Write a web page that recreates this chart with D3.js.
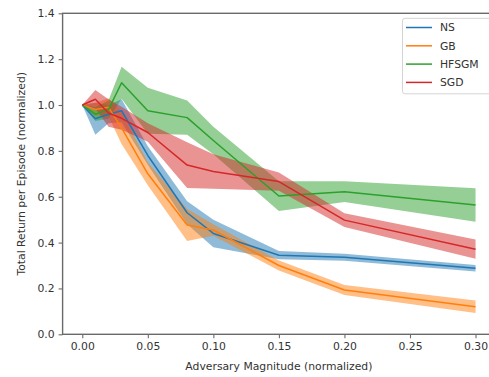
<!DOCTYPE html>
<html>
<head>
<meta charset="utf-8">
<script src="https://cdn.jsdelivr.net/npm/d3@7"></script>
<style>
  html, body { margin: 0; padding: 0; background: #fff; }
  svg { display: block; font-family: "DejaVu Sans", sans-serif; }
</style>
</head>
<body>
<svg id="chart" width="489" height="377"></svg>
<script>
// Adversary magnitudes evaluated
const magnitudes = [0, 0.01, 0.02, 0.03, 0.05, 0.08, 0.10, 0.15, 0.20, 0.30];

// Mean normalized return per method
const nsMean    = [1.00, 0.94, 0.96, 0.975, 0.78, 0.53, 0.44, 0.345, 0.336, 0.288];
const gbMean    = [1.00, 0.98, 0.99, 0.90, 0.70, 0.477, 0.455, 0.300, 0.193, 0.120];
const hfsgmMean = [1.00, 0.96, 0.98, 1.097, 0.975, 0.945, 0.845, 0.603, 0.622, 0.564];
const sgdMean   = [1.00, 1.025, 0.965, 0.942, 0.88, 0.738, 0.71, 0.666, 0.498, 0.371];

// Half-width of the shaded spread around each mean
const nsSpread    = [0, 0.07, 0.04, 0.05, 0.04, 0.05, 0.06, 0.018, 0.015, 0.014];
const gbSpread    = [0, 0.03, 0.04, 0.07, 0.05, 0.07, 0.025, 0.022, 0.022, 0.027];
const hfsgmSpread = [0, 0.03, 0.04, 0.07, 0.10, 0.075, 0.06, 0.065, 0.045, 0.073];
const sgdSpread   = [0, 0.04, 0.06, 0.05, 0.04, 0.10, 0.075, 0.04, 0.03, 0.042];

const methodNames = ["NS", "GB", "HFSGM", "SGD"];
const methodColors = ["#1f77b4", "#ff7f0e", "#2ca02c", "#d62728"];

const xTicks = [0, 0.05, 0.10, 0.15, 0.20, 0.25, 0.30];
const yTicks = [0, 0.2, 0.4, 0.6, 0.8, 1.0, 1.2, 1.4];

const xLabel = "Adversary Magnitude (normalized)";
const yLabel = "Total Return per Episode (normalized)";

const series = [
  { name: methodNames[0], color: methodColors[0], mean: nsMean, spread: nsSpread },
  { name: methodNames[1], color: methodColors[1], mean: gbMean, spread: gbSpread },
  { name: methodNames[2], color: methodColors[2], mean: hfsgmMean, spread: hfsgmSpread },
  { name: methodNames[3], color: methodColors[3], mean: sgdMean, spread: sgdSpread }
].map(s => ({
  ...s,
  points: magnitudes.map((m, i) => ({ x: m, y: s.mean[i], lo: s.mean[i] - s.spread[i], hi: s.mean[i] + s.spread[i] }))
}));

const svg = d3.select("#chart");
const fontSize = 10.8;
const textColor = "#333";
const spineColor = "#6a6a6a";

// Plot area (right edge of the axes sits just past the canvas)
const plot = { left: 62.6, right: 495.2, top: 13.3, bottom: 334.3 };

const x = d3.scaleLinear().domain([-0.015, 0.315]).range([plot.left, plot.right]);
const y = d3.scaleLinear().domain([0, 1.4]).range([plot.bottom, plot.top]);

// Shaded spreads first, then all the mean lines on top
const area = d3.area().x(d => x(d.x)).y0(d => y(d.lo)).y1(d => y(d.hi));
const line = d3.line().x(d => x(d.x)).y(d => y(d.y));

const clip = svg.append("defs").append("clipPath").attr("id", "plotClip")
  .append("rect")
  .attr("x", plot.left).attr("y", plot.top)
  .attr("width", plot.right - plot.left).attr("height", plot.bottom - plot.top);

const g = svg.append("g").attr("clip-path", "url(#plotClip)");

g.selectAll("path.band").data(series).join("path")
  .attr("class", "band")
  .attr("d", s => area(s.points))
  .attr("fill", s => s.color)
  .attr("fill-opacity", 0.5)
  .attr("stroke", "none");

g.selectAll("path.mean").data(series).join("path")
  .attr("class", "mean")
  .attr("d", s => line(s.points))
  .attr("fill", "none")
  .attr("stroke", s => s.color)
  .attr("stroke-width", 1.5)
  .attr("stroke-linejoin", "round");

// Axes
const xAxis = d3.axisBottom(x).tickValues(xTicks).tickFormat(d3.format(".2f")).tickSize(4).tickPadding(4);
const yAxis = d3.axisLeft(y).tickValues(yTicks).tickFormat(d3.format(".1f")).tickSize(4).tickPadding(4);

const gx = svg.append("g").attr("transform", `translate(0,${plot.bottom})`).call(xAxis);
const gy = svg.append("g").attr("transform", `translate(${plot.left},0)`).call(yAxis);

[gx, gy].forEach(ax => {
  ax.select(".domain").remove();
  ax.selectAll(".tick line").attr("stroke", spineColor).attr("stroke-width", 1.1);
  ax.selectAll(".tick text")
    .attr("fill", textColor)
    .style("font-family", "'DejaVu Sans', sans-serif")
    .style("font-size", fontSize + "px");
});

// Spines
svg.append("rect")
  .attr("x", plot.left).attr("y", plot.top)
  .attr("width", plot.right - plot.left).attr("height", plot.bottom - plot.top)
  .attr("fill", "none")
  .attr("stroke", spineColor)
  .attr("stroke-width", 1.4);

// Axis titles
svg.append("text")
  .attr("x", (x(0) + x(0.3)) / 2)
  .attr("y", 370)
  .attr("text-anchor", "middle")
  .attr("fill", textColor)
  .style("font-size", fontSize + "px")
  .text(xLabel);

svg.append("text")
  .attr("transform", `translate(25,${(plot.top + plot.bottom) / 2}) rotate(-90)`)
  .attr("text-anchor", "middle")
  .attr("fill", textColor)
  .style("font-size", fontSize + "px")
  .text(yLabel);

// Legend
const legend = svg.append("g");
legend.append("rect")
  .attr("x", 402.5).attr("y", 18.3)
  .attr("width", 90).attr("height", 75.5)
  .attr("rx", 2.5)
  .attr("fill", "#fff").attr("fill-opacity", 0.8)
  .attr("stroke", "#d4d4d4").attr("stroke-width", 1);

const rowY = d => 27.5 + d * 18.3;
legend.selectAll("line.key").data(series).join("line")
  .attr("class", "key")
  .attr("x1", 406).attr("x2", 432)
  .attr("y1", (s, i) => rowY(i)).attr("y2", (s, i) => rowY(i))
  .attr("stroke", s => s.color)
  .attr("stroke-width", 1.5);

legend.selectAll("text.key").data(series).join("text")
  .attr("class", "key")
  .attr("x", 440)
  .attr("y", (s, i) => rowY(i) + 3.9)
  .attr("fill", textColor)
  .style("font-size", fontSize + "px")
  .text(s => s.name);
</script>
</body>
</html>
